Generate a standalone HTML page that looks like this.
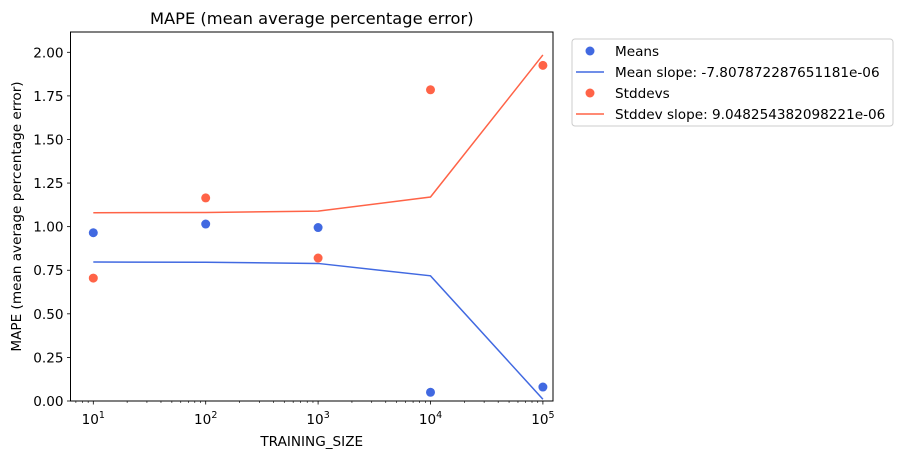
<!DOCTYPE html>
<html><head><meta charset="utf-8"><style>
body{margin:0;background:#fff;}
svg{display:block;font-family:"DejaVu Sans","Liberation Sans",sans-serif;}
</style></head><body>
<svg id="chart" width="908" height="459" viewBox="0 0 908 459">
<rect width="908" height="459" fill="#fff"/>
<g id="plot"></g>
</svg>
<script>
const categories=[10,100,1000,10000,100000];
const meanValues=[0.965,1.015,0.995,0.05,0.08];
const stdValues=[0.705,1.165,0.82,1.785,1.925];
const meanFit=[0.797,0.796,0.789,0.718,0.01];
const stdFit=[1.08,1.081,1.089,1.17,1.985];
const yTicks=[0,0.25,0.5,0.75,1.0,1.25,1.5,1.75,2.0];
const xTickExps=[1,2,3,4,5];

const L=70.5,R=553,T=32,B=401;
const FS=13.6;
const x=v=>93.3+(Math.log10(v)-1)*112.4;
const y=v=>401-v*174.35;
const NS="http://www.w3.org/2000/svg";
const g=document.getElementById('plot');
function mk(t,a,p){const e=document.createElementNS(NS,t);for(const k in a)e.setAttribute(k,a[k]);(p||g).appendChild(e);return e;}

for(let d=0;d<=5;d++)for(let m=2;m<=9;m++){const v=m*Math.pow(10,d);const px=x(v);if(px<L||px>R)continue;
const t=mk('line',{x1:px,x2:px,y1:B,y2:B+2,stroke:'#000','stroke-width':0.6});
}
xTickExps.forEach(e=>{const px=x(Math.pow(10,e));
const t=mk('line',{x1:px,x2:px,y1:B,y2:B+3.5,stroke:'#000','stroke-width':0.8});

const tx=mk('text',{x:px,y:B+23,'text-anchor':'middle','font-size':FS});

tx.innerHTML='10<tspan dy="-6" font-size="9.5">'+e+'</tspan>';});
yTicks.forEach(v=>{const py=y(v);
const t=mk('line',{x1:L-3.5,x2:L,y1:py,y2:py,stroke:'#000','stroke-width':0.8});

const tx=mk('text',{x:L-7,y:py+5,'text-anchor':'end','font-size':FS});

tx.textContent=v.toFixed(2);});

function line(vals,col,name){const p=mk('polyline',{points:categories.map((c,i)=>x(c)+','+y(vals[i])).join(' '),fill:'none',stroke:col,'stroke-width':1.5});
}
function pts(vals,col,name){categories.forEach((c,i)=>{const e=mk('circle',{cx:x(c),cy:y(vals[i]),r:4.5,fill:col});
});}
line(meanFit,'#4169e1','mean-slope-line');
line(stdFit,'#ff6347','stddev-slope-line');
pts(meanValues,'#4169e1','mean-point');
pts(stdValues,'#ff6347','stddev-point');

const fr=mk('rect',{x:L,y:T,width:R-L,height:B-T,fill:'none',stroke:'#000','stroke-width':1});


const ti=mk('text',{x:(L+R)/2,y:24,'text-anchor':'middle','font-size':16.3});

ti.textContent='MAPE (mean average percentage error)';
const xl=mk('text',{x:(L+R)/2,y:446,'text-anchor':'middle','font-size':FS});

xl.textContent='TRAINING_SIZE';
const yl=mk('text',{x:0,y:0,'text-anchor':'middle','font-size':FS,transform:'translate(21,'+((T+B)/2)+') rotate(-90)'});

yl.textContent='MAPE (mean average percentage error)';

const lg=mk('g',{});

mk('rect',{x:572,y:39,width:321,height:87,rx:3,fill:'#fff',stroke:'#ccc','stroke-width':1},lg);
const entries=[['dot','#4169e1','Means'],['line','#4169e1','Mean slope: -7.807872287651181e-06'],['dot','#ff6347','Stddevs'],['line','#ff6347','Stddev slope: 9.048254382098221e-06']];
entries.forEach((en,i)=>{const cy=51+i*21;
const eg=mk('g',{},lg);

if(en[0]==='dot')mk('circle',{cx:590,cy:cy,r:4.5,fill:en[1]},eg);
else mk('line',{x1:576,x2:604,y1:cy,y2:cy,stroke:en[1],'stroke-width':1.5},eg);
const t=mk('text',{x:615,y:cy+5,'font-size':FS},eg);t.textContent=en[2];});
</script>
</body></html>
